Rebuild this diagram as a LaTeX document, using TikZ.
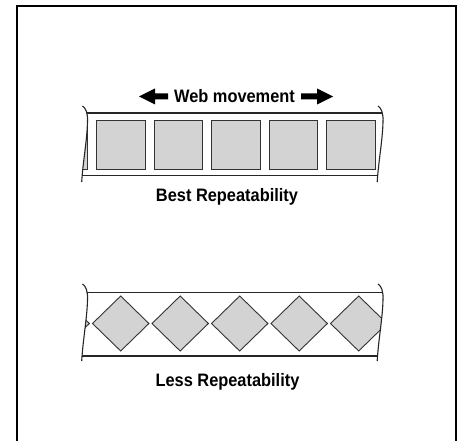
\documentclass[tikz,border=0pt]{standalone}
\usepackage{fontspec}
\newfontfamily\labfont[FakeStretch=0.91]{Liberation Sans}
\definecolor{cellgray}{RGB}{211,211,211}
\begin{document}
\begin{tikzpicture}[x=1pt,y=-1pt,
  frame/.style={line width=2pt, draw=black},
  webline/.style={line width=1.1pt, draw=black!85},
  cell/.style={fill=cellgray, draw=black!80, line width=0.9pt, line join=miter},
  lab/.style={font=\labfont\bfseries\fontsize{18}{20}\selectfont, inner sep=0pt, anchor=base},
  arrowshape/.style={fill=black, draw=none}]
\useasboundingbox (0,0) rectangle (458,441);
\clip (0,0) rectangle (458,441);
\fill[white] (0,0) rectangle (458,441);
% frame (open at bottom)
\draw[frame] (17,450) -- (17,6) -- (456.3,6) -- (456.3,450);

% ---------- top web ----------
\begin{scope}[shift={(0,106)}]
  \begin{scope}
    \clip (82.5,0) .. controls (86,2) and (88,8) .. (87.5,16)
          .. controls (87,35) and (83,55) .. (81.7,76)
          -- (377.2,76)
          .. controls (378.5,55) and (382.5,35) .. (383,16)
          .. controls (383.5,8) and (381.5,2) .. (378,0) -- cycle;
    \foreach \k in {-1,...,4}{
      \draw[cell] ({96.7+57.5*\k},14.7) rectangle ++(48.3,48.3);
    }
    \draw[webline] (60,7) -- (400,7);
    \draw[webline] (60,69.5) -- (400,69.5);
  \end{scope}
  \draw[webline] (82.5,0) .. controls (86,2) and (88,8) .. (87.5,16)
          .. controls (87,35) and (83,55) .. (81.7,76);
  \draw[webline] (378,0) .. controls (381.5,2) and (383.5,8) .. (383,16)
          .. controls (382.5,35) and (378.5,55) .. (377.2,76);
\end{scope}

% ---------- bottom web ----------
\begin{scope}[shift={(0,284)}]
  \begin{scope}
    \clip (82.5,0) .. controls (86,2) and (88,8) .. (87.5,16)
          .. controls (87,35) and (83,55) .. (81.7,77)
          -- (377.2,77)
          .. controls (378.5,55) and (382.5,35) .. (383,16)
          .. controls (383.5,8) and (381.5,2) .. (378,0) -- cycle;
    \foreach \k in {0,...,5}{
      \draw[cell] ({33+59.5*\k},39.5) -- ++(28.2,-27.5) -- ++(28.2,27.5)
                 -- ++(-28.2,27.5) -- cycle;
    }
    \draw[webline] (60,8.3) -- (400,8.3);
    \draw[webline] (60,72) -- (400,72);
  \end{scope}
  \draw[webline] (82.5,0) .. controls (86,2) and (88,8) .. (87.5,16)
          .. controls (87,35) and (83,55) .. (81.7,77);
  \draw[webline] (378,0) .. controls (381.5,2) and (383.5,8) .. (383,16)
          .. controls (382.5,35) and (378.5,55) .. (377.2,77);
\end{scope}

% ---------- labels ----------
\node[lab] (wm) at (234.5,102.5) {Web movement};
\node[lab] (best) at (227,201.5) {Best Repeatability};
\node[lab] (less) at (227.5,386) {Less Repeatability};

% ---------- arrows ----------
\fill[arrowshape] (139,96.5) -- (155,88.5) -- (155,93.5) -- (168,93.5)
   -- (168,99.5) -- (155,99.5) -- (155,104.5) -- cycle;
\fill[arrowshape] (333,96.5) -- (317,88.5) -- (317,93.5) -- (301,93.5)
   -- (301,99.5) -- (317,99.5) -- (317,104.5) -- cycle;
\end{tikzpicture}
\end{document}
